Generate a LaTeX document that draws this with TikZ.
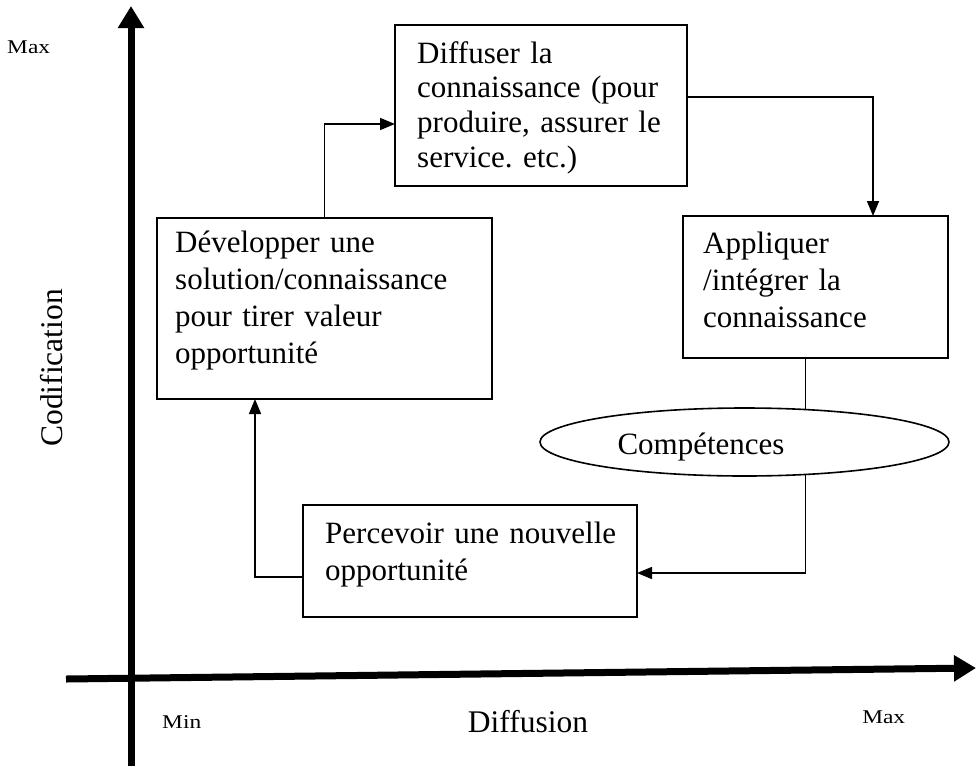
\documentclass[tikz,border=0pt]{standalone}
\usepackage{fontspec}
\setmainfont{Liberation Serif}
\frenchspacing
\usetikzlibrary{arrows.meta,shapes.geometric}
\begin{document}
\begin{tikzpicture}[x=1pt,y=-1pt,
  frame/.style={draw, line width=1.8pt, rectangle, inner sep=0pt, outer sep=0pt},
  txt/.style={inner sep=0pt, anchor=base west, align=left, text width=#1},
  txt/.default=320pt,
  conn/.style={line width=1.6pt, -{Triangle[length=15pt,width=12pt]}},
  link/.style={line width=1.6pt},
  axis/.style={line width=7pt, -{Triangle[length=22pt,width=25pt]}},
  small/.style={inner sep=0pt, anchor=base west, xscale=1.2,
    font=\fontsize{19.5}{22}\selectfont},
  big/.style={inner sep=0pt, font=\fontsize{31.5}{37}\selectfont}
]
% page
\path[fill=white] (0,0) rectangle (976,766);
\useasboundingbox (0,0) rectangle (976,766);

% axes
\coordinate (ybot) at (131,766);
\coordinate (ytop) at (131,6);
\coordinate (xleft) at (66,679);
\coordinate (xright) at (976,668);
\draw[axis] (ybot) -- (ytop);
\draw[axis] (xleft) -- (xright);

% axis labels
\node[small] (maxy) at (7,53) {Max};
\node[small] (minx) at (162,728) {Min};
\node[small] (maxx) at (862,723) {Max};
\node[big, rotate=90, anchor=base] (codif) at (62,368) {Codification};
\node[big, anchor=base] (diffu) at (528,732) {Diffusion};

% boxes
\node[frame, minimum width=292pt, minimum height=161pt] (diff) at (541,105.5) {};
\node[frame, minimum width=335pt, minimum height=181pt] (dev) at (324.5,308.5) {};
\node[frame, minimum width=265pt, minimum height=142pt] (app) at (815.5,287) {};
\node[frame, minimum width=334pt, minimum height=112pt] (perc) at (470,561) {};
\node[draw, line width=1.6pt, ellipse, inner sep=0pt, outer sep=0pt,
      minimum width=409pt, minimum height=68pt] (comp) at (744.5,442) {};

% box texts
\node[txt, font=\fontsize{31}{34.7}\selectfont] (tdiff) at (417,63)
  {Diffuser la\\connaissance (pour\\produire, assurer le\\service. etc.)};
\node[txt, font=\fontsize{31}{37.3}\selectfont] (tdev) at (175,252)
  {Développer une\\solution/connaissance\\pour tirer valeur\\opportunité};
\node[txt=240pt, font=\fontsize{31}{37}\selectfont] (tapp) at (703,253)
  {Appliquer\\/intégrer la\\connaissance};
\node[txt, font=\fontsize{31}{37}\selectfont] (tperc) at (325,543)
  {Percevoir une nouvelle\\opportunité};
\node[inner sep=0pt, anchor=base, font=\fontsize{31}{37}\selectfont] (tcomp) at (701,454)
  {Compétences};

% cycle connectors
\draw[conn] (dev.north) |- ([yshift=-18.5pt]diff.west);
\draw[conn] ([yshift=8.5pt]diff.east) -| ([xshift=57.5pt]app.north);
\draw[link] (comp.28.6 |- app.south) -- (comp.28.6);
\draw[conn] (comp.-28.6) |- ([yshift=-12pt]perc.east);
\draw[conn] ([yshift=-16pt]perc.west) -| ([xshift=-69.5pt]dev.south);
\end{tikzpicture}
\end{document}
